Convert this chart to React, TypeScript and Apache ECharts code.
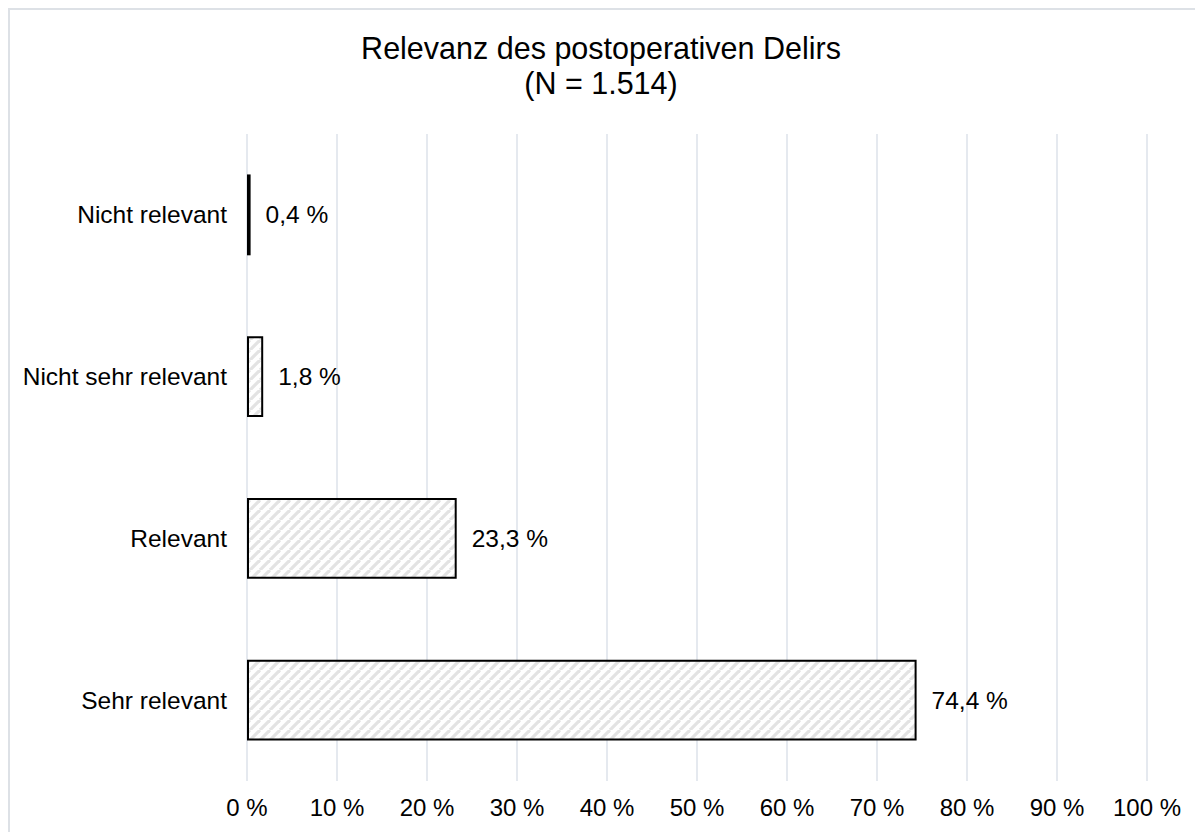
import React, { useEffect, useRef } from "react";
import * as echarts from "echarts";

const titleText = "Relevanz des postoperativen Delirs";
const subtitleText = "(N = 1.514)";
const categories = ["Sehr relevant", "Relevant", "Nicht sehr relevant", "Nicht relevant"];
const values = [74.4, 23.3, 1.8, 0.4];
const axisMin = 0;
const axisMax = 100;
const axisInterval = 10;

const FONT = '"Liberation Sans", Arial, Helvetica, sans-serif';

function makeHatch(): HTMLCanvasElement {
  const size = 10;
  const c = document.createElement("canvas");
  c.width = size;
  c.height = size;
  const ctx = c.getContext("2d")!;
  ctx.fillStyle = "#ffffff";
  ctx.fillRect(0, 0, size, size);
  ctx.strokeStyle = "#e3e3e3";
  ctx.lineWidth = 3.2;
  for (const off of [-size, 0, size]) {
    ctx.beginPath();
    ctx.moveTo(off, size);
    ctx.lineTo(off + size, 0);
    ctx.stroke();
  }
  return c;
}

export default function App() {
  const ref = useRef<HTMLDivElement>(null);
  useEffect(() => {
    if (!ref.current) return;
    const chart = echarts.init(ref.current, null, { renderer: "svg" });
    const hatch = makeHatch();
    chart.setOption({
      animation: false,
      backgroundColor: "#ffffff",
      graphic: [
        {
          type: "text",
          x: 591,
          y: 20,
          style: {
            text: titleText + "\n" + subtitleText,
            font: `30.5px ${FONT}`,
            fill: "#000000",
            textAlign: "center",
            textVerticalAlign: "top",
            lineHeight: 35,
          },
        },
      ],
      grid: { left: 237, right: 56, top: 124, bottom: 51, containLabel: false },
      xAxis: {
        type: "value",
        min: axisMin,
        max: axisMax,
        interval: axisInterval,
        axisLine: { show: false },
        axisTick: { show: false },
        splitLine: { show: true, lineStyle: { color: "#dde2ea", width: 1.5 } },
        axisLabel: {
          formatter: "{value} %",
          fontSize: 24,
          fontFamily: FONT,
          color: "#000000",
          margin: 14,
        },
      },
      yAxis: {
        type: "category",
        data: categories,
        axisLine: { show: false },
        axisTick: { show: false },
        axisLabel: {
          fontSize: 24.5,
          fontFamily: FONT,
          color: "#000000",
          margin: 20,
        },
      },
      series: [
        {
          type: "bar",
          data: values,
          barCategoryGap: "50%",
          itemStyle: {
            color: { image: hatch, repeat: "repeat" },
            borderColor: "#000000",
            borderWidth: 2,
          },
          label: {
            show: true,
            position: "right",
            distance: 15,
            fontSize: 24.5,
            fontFamily: FONT,
            color: "#000000",
            formatter: (p: any) => `${Number(p.value).toFixed(1).replace(".", ",")} %`,
          },
        },
      ],
    });
    return () => chart.dispose();
  }, []);
  return (
    <div
      ref={ref}
      style={{
        width: 1193,
        height: 822,
        borderTop: "2px solid #dde1e6",
        borderLeft: "2px solid #dde1e6",
      }}
    />
  );
}
